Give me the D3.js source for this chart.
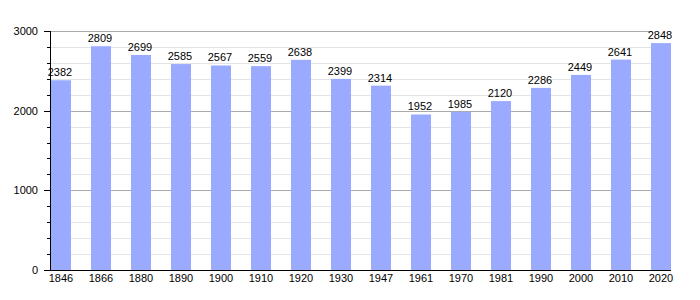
<!DOCTYPE html>
<html lang="en">
<head>
<meta charset="utf-8">
<title>Population</title>
<script src="https://cdnjs.cloudflare.com/ajax/libs/d3/7.8.5/d3.min.js"></script>
<style>
  html, body { margin: 0; padding: 0; background: white; }
  svg text { font-family: "Liberation Sans", Arial, sans-serif; font-size: 11px; fill: #000; }
</style>
</head>
<body>
<svg id="chart" width="700" height="300"></svg>
<script>
// census years and population
var years = ["1846", "1866", "1880", "1890", "1900", "1910", "1920", "1930", "1947",
             "1961", "1970", "1981", "1990", "2000", "2010", "2020"];
var population = [2382, 2809, 2699, 2585, 2567, 2559, 2638, 2399, 2314,
                  1952, 1985, 2120, 2286, 2449, 2641, 2848];
var majorTicks = [0, 1000, 2000, 3000];
var minorTicks = d3.range(200, 3000, 200).filter(function (v) { return v % 1000 !== 0; });

var svg = d3.select("#chart");
var left = 50, gridRight = 652, axisRight = 671;

var x = d3.scaleBand()
  .domain(years)
  .range([41, 681])
  .paddingInner(0.5)
  .paddingOuter(0.25);

var y = d3.scaleLinear()
  .domain([0, 3000])
  .range([270, 31]);

// minor grid
svg.append("g").selectAll("line")
  .data(minorTicks).enter().append("line")
  .attr("x1", left).attr("x2", gridRight)
  .attr("y1", function (d) { return Math.round(y(d)) + 0.5; })
  .attr("y2", function (d) { return Math.round(y(d)) + 0.5; })
  .style("stroke", "#e4e4e4").style("stroke-width", 1);

// major grid
svg.append("g").selectAll("line")
  .data(majorTicks.filter(function (d) { return d > 0; })).enter().append("line")
  .attr("x1", left).attr("x2", gridRight)
  .attr("y1", function (d) { return Math.round(y(d)) + 0.5; })
  .attr("y2", function (d) { return Math.round(y(d)) + 0.5; })
  .style("stroke", "#aaaaaa").style("stroke-width", 1);

// bars
svg.append("g").selectAll("rect")
  .data(population).enter().append("rect")
  .attr("x", function (d, i) { return x(years[i]); })
  .attr("width", x.bandwidth())
  .attr("y", function (d) { return y(d); })
  .attr("height", function (d) { return y(0) - y(d); })
  .style("fill", "#99aaff");

// value labels
svg.append("g").selectAll("text")
  .data(population).enter().append("text")
  .attr("x", function (d, i) { return x(years[i]) + x.bandwidth() / 2 - 1; })
  .attr("y", function (d) { return y(d) - 4; })
  .attr("text-anchor", "middle")
  .text(function (d) { return d; });

// y axis line + ticks
svg.append("line")
  .attr("x1", left + 0.5).attr("x2", left + 0.5)
  .attr("y1", y(3000)).attr("y2", y(0))
  .style("stroke", "#000");

svg.append("g").selectAll("line")
  .data(majorTicks).enter().append("line")
  .attr("x1", left - 6).attr("x2", left)
  .attr("y1", function (d) { return Math.round(y(d)) + 0.5; })
  .attr("y2", function (d) { return Math.round(y(d)) + 0.5; })
  .style("stroke", "#000");

svg.append("g").selectAll("line")
  .data(minorTicks).enter().append("line")
  .attr("x1", left - 3).attr("x2", left)
  .attr("y1", function (d) { return Math.round(y(d)) + 0.5; })
  .attr("y2", function (d) { return Math.round(y(d)) + 0.5; })
  .style("stroke", "#000");

svg.append("g").selectAll("text")
  .data(majorTicks).enter().append("text")
  .attr("x", 38)
  .attr("y", function (d) { return y(d) + 4; })
  .attr("text-anchor", "end")
  .text(function (d) { return d; });

// x axis
svg.append("line")
  .attr("x1", left - 5).attr("x2", axisRight)
  .attr("y1", Math.round(y(0)) + 0.5).attr("y2", Math.round(y(0)) + 0.5)
  .style("stroke", "#000");

svg.append("g").selectAll("text")
  .data(years).enter().append("text")
  .attr("x", function (d) { return x(d) + x.bandwidth() / 2; })
  .attr("y", 282)
  .attr("text-anchor", "middle")
  .text(function (d) { return d; });
</script>
</body>
</html>
